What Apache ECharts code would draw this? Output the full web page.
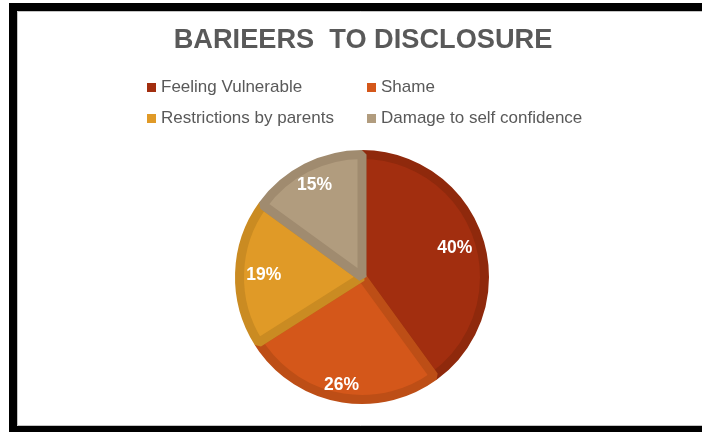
<!DOCTYPE html>
<html>
<head>
<meta charset="utf-8">
<script src="https://cdn.jsdelivr.net/npm/echarts@6/dist/echarts.min.js"></script>
<style>
  html, body { margin: 0; padding: 0; background: #ffffff; }
  #chart { width: 702px; height: 432px; }
</style>
</head>
<body>
<div id="chart"></div>
<script>
// Barriers to disclosure — share of respondents per barrier (%)
const titleText = 'BARIEERS  TO DISCLOSURE';
const categories = ['Feeling Vulnerable', 'Shame', 'Restrictions by parents', 'Damage to self confidence'];
const shares = [40, 26, 19, 15];
const fillColors = ['#A22E0F', '#D4571A', '#E09A27', '#B19C7E'];
const rimColors = ['#8F290C', '#BD4E16', '#CA8B22', '#A08B6F'];

// Layout constants
const CENTER = [362, 277];
const OUTER_RADIUS = 127;
const RIM_WIDTH = 9;
const LABEL_EDGE = 119;

const total = shares.reduce((a, b) => a + b, 0);
function midAngle(i) {
  let before = 0;
  for (let k = 0; k < i; k++) before += shares[k];
  return (before + shares[i] / 2) / total * Math.PI * 2;
}

const chart = echarts.init(document.getElementById('chart'), null, { renderer: 'canvas' });

const FONT = 'Liberation Sans, Arial, sans-serif';
const legendCommon = {
  orient: 'vertical',
  top: 79,
  padding: 0,
  itemWidth: 9,
  itemHeight: 9,
  icon: 'rect',
  itemGap: 14,
  selectedMode: false,
  itemStyle: { borderWidth: 0 },
  textStyle: { color: '#595959', fontSize: 17, fontFamily: FONT }
};

chart.setOption({
  animation: false,
  backgroundColor: '#ffffff',
  title: {
    text: titleText,
    left: 363,
    textAlign: 'center',
    top: 27,
    padding: 0,
    textStyle: { color: '#595959', fontSize: 27.2, fontWeight: 'bold', fontFamily: FONT }
  },
  legend: [
    Object.assign({ data: [categories[0], categories[2]], left: 147 }, legendCommon),
    Object.assign({ data: [categories[1], categories[3]], left: 367 }, legendCommon)
  ],
  graphic: [
    // chart frame: heavy black rule on the left, top and bottom
    { type: 'rect', shape: { x: 9, y: 3, width: 693, height: 8 }, style: { fill: '#000' }, z: 10 },
    { type: 'rect', shape: { x: 9, y: 3, width: 8, height: 429 }, style: { fill: '#000' }, z: 10 },
    { type: 'rect', shape: { x: 9, y: 426, width: 693, height: 6 }, style: { fill: '#000' }, z: 10 },
    { type: 'rect', shape: { x: 17.5, y: 11.5, width: 700, height: 414 }, style: { fill: 'none', stroke: '#c4c4c4', lineWidth: 1 }, z: 9 }
  ],
  series: [
    {
      type: 'pie',
      name: 'Barriers to disclosure',
      center: CENTER,
      // the rim stroke is centred on the edge, so shrink the fill by half of it
      radius: [0, OUTER_RADIUS - RIM_WIDTH / 2],
      startAngle: 90,
      clockwise: true,
      silent: true,
      data: categories.map((c, i) => ({
        name: c,
        value: shares[i],
        itemStyle: { color: fillColors[i], borderColor: rimColors[i], borderWidth: RIM_WIDTH, borderJoin: 'bevel' }
      })),
      label: {
        show: true,
        position: 'inside',
        formatter: p => p.value + '%',
        color: '#ffffff',
        fontSize: 17.5,
        fontWeight: 'bold',
        fontFamily: FONT
      },
      labelLine: { show: false },
      // keep each percentage just inside the outer edge of its slice
      labelLayout: function (p) {
        const a = midAngle(p.dataIndex);
        const dx = Math.sin(a), dy = -Math.cos(a);
        const hw = p.labelRect.width / 2 + 3;
        const hh = 6;
        const d = LABEL_EDGE - (Math.abs(dx) * hw + Math.abs(dy) * hh);
        return { x: CENTER[0] + d * dx, y: CENTER[1] + d * dy + 1, align: 'center', verticalAlign: 'middle' };
      }
    }
  ]
});
</script>
</body>
</html>
